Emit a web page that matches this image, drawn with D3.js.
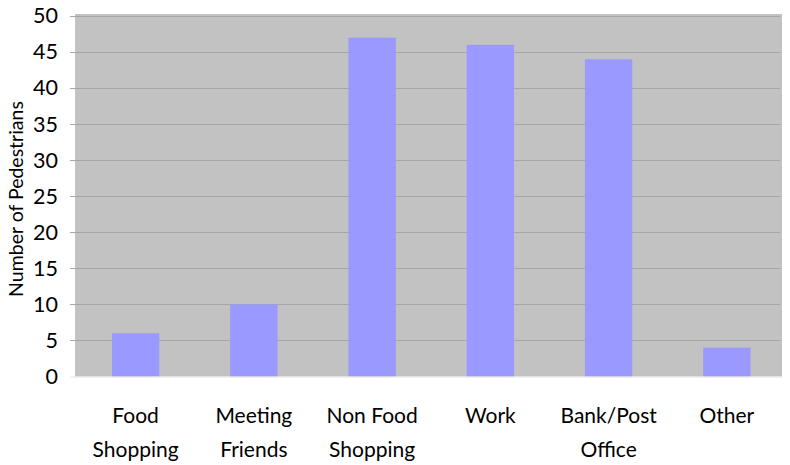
<!DOCTYPE html>
<html>
<head>
<meta charset="utf-8">
<script src="https://cdn.jsdelivr.net/npm/d3@7"></script>
<style>
  body { margin: 0; background: #fff; }
  text { font-family: Lato, "Open Sans", sans-serif; fill: #000; }
</style>
</head>
<body>
<svg id="chart" width="790" height="465"></svg>
<script>
// Trip purposes and pedestrian counts
const categories = [["Food", "Shopping"], ["Meeting", "Friends"], ["Non Food", "Shopping"], ["Work"], ["Bank/Post", "Office"], ["Other"]];
const values = [6, 10, 47, 46, 44, 4];
const yTicks = [0, 5, 10, 15, 20, 25, 30, 35, 40, 45, 50];
const yTitle = "Number of Pedestrians";

const svg = d3.select("#chart");
const plot = { left: 75, right: 782, top: 14, bottom: 376.5 };

const keys = categories.map(c => c.join(" "));
const x = d3.scaleBand().domain(keys).range([76.5, 786]).paddingInner(0.6).paddingOuter(0.3);
const y = d3.scaleLinear().domain([0, 50]).range([376.5, 16]);

// plot background
svg.append("rect").attr("x", plot.left).attr("y", plot.top)
  .attr("width", plot.right - plot.left).attr("height", plot.bottom - plot.top)
  .attr("fill", "#c2c2c2");

// gridlines with short ticks to the left
svg.append("g").selectAll("line").data(yTicks.filter(d => d > 0)).join("line")
  .attr("x1", plot.left - 5).attr("x2", plot.right - 2)
  .attr("y1", d => Math.round(y(d)) + 0.5).attr("y2", d => Math.round(y(d)) + 0.5)
  .attr("stroke", "#a6a6a6").attr("stroke-width", 1);

// bars
svg.append("g").selectAll("rect").data(values).join("rect")
  .attr("x", (d, i) => x(keys[i]))
  .attr("width", x.bandwidth())
  .attr("y", d => y(d))
  .attr("height", d => y(0) - y(d))
  .attr("fill", "#9999ff");

// baseline
svg.append("line").attr("x1", plot.left - 5).attr("x2", plot.right)
  .attr("y1", 377).attr("y2", 377).attr("stroke", "#e4e4e4");

// y axis labels
const yAxis = d3.axisLeft(y).tickValues(yTicks).tickSize(0).tickPadding(0);
const ya = svg.append("g").attr("transform", `translate(${plot.left - 17},0)`).call(yAxis);
ya.select(".domain").remove();
ya.selectAll("text").attr("font-size", 21.5).attr("font-family", "Lato, sans-serif").attr("fill", "#000");

// category labels
const xl = svg.append("g");
categories.forEach((lines, i) => {
  const cx = x(keys[i]) + x.bandwidth() / 2;
  const t = xl.append("text").attr("text-anchor", "middle").attr("font-size", 21);
  lines.forEach((ln, j) => {
    t.append("tspan").attr("x", cx).attr("y", 423 + j * 34).text(ln);
  });
});

// y axis title
svg.append("text").attr("transform", "translate(23,199) rotate(-90)")
  .attr("text-anchor", "middle").attr("font-size", 19.5).text(yTitle);
</script>
</body>
</html>
